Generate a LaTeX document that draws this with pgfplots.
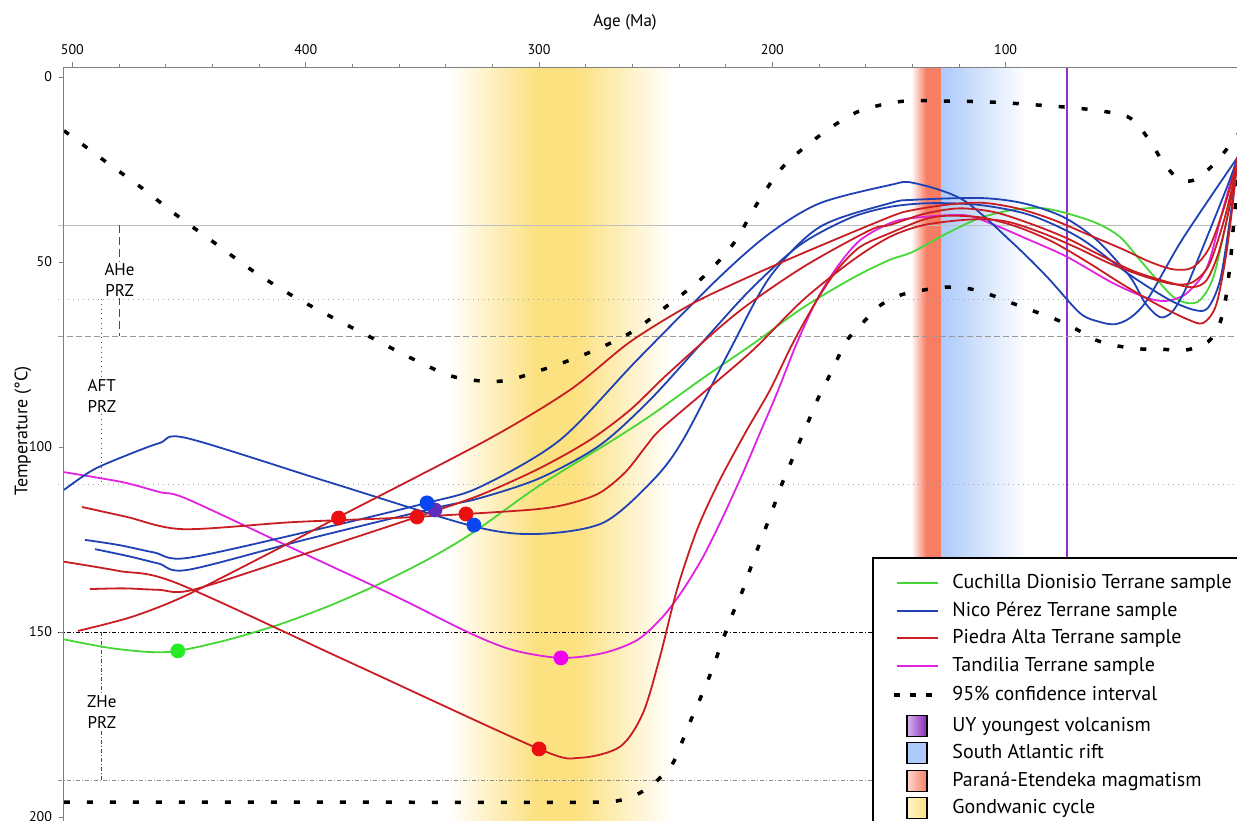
\documentclass[border=0pt]{standalone}
\usepackage{fontspec}
\setmainfont{PT Sans}
\usepackage{pgfplots}
\pgfplotsset{compat=1.18}
\definecolor{cgreen}{RGB}{70,215,55}
\definecolor{cblue}{RGB}{30,65,180}
\definecolor{cred}{RGB}{200,30,35}
\definecolor{cmag}{RGB}{225,35,225}
\definecolor{dgreen}{RGB}{40,235,40}
\definecolor{dblue}{RGB}{10,70,240}
\definecolor{dred}{RGB}{235,15,15}
\definecolor{dmag}{RGB}{240,0,240}
\definecolor{dviol}{RGB}{95,45,190}
\definecolor{gyellow}{RGB}{252,225,128}
\definecolor{pred}{RGB}{247,125,100}
\definecolor{sblue}{RGB}{172,202,250}
\definecolor{vline}{RGB}{150,45,205}
\begin{document}
\begin{tikzpicture}
\useasboundingbox (0,0) rectangle (618.5pt,-410pt);
\begin{axis}[
  at={(32pt,-33.5pt)}, anchor=north west,
  scale only axis, width=587.5pt, height=384.25pt,
  xmin=0, xmax=503.6, ymin=-2.7, ymax=205,
  x dir=reverse, y dir=reverse,
  axis x line*=top, axis y line*=left,
  axis on top,
  xtick={100,200,300,400,500}, minor x tick num=4,
  ytick={0,50,100,150,200},
  tick align=outside,
  major tick length=2.5pt, minor tick length=1.5pt,
  tick style={gray, line width=0.4pt},
  axis line style={gray, line width=0.5pt},
  tick label style={font=\fontsize{7}{8}\selectfont},
  /pgf/number format/assume math mode=true,
  clip=false,
]
% bands
\shade[left color=white, right color=gyellow] (axis cs:339,-2.3) rectangle (axis cs:301,205);
\fill[gyellow] (axis cs:301,-2.3) rectangle (axis cs:284,205);
\shade[left color=gyellow, right color=white] (axis cs:284,-2.3) rectangle (axis cs:243,205);
\shade[left color=white, right color=pred] (axis cs:140.5,-2.3) rectangle (axis cs:134,205);
\fill[pred] (axis cs:134,-2.3) rectangle (axis cs:127.6,205);
\shade[left color=sblue, right color=white] (axis cs:127.6,-2.3) rectangle (axis cs:91,205);
\draw[vline, line width=1.3pt] (axis cs:73.7,-2.3) -- (axis cs:73.7,205);
% PRZ grid lines
\draw[black!25, line width=0.4pt] (axis cs:506,40) -- (axis cs:0,40);
\draw[black!35, line width=0.5pt, dotted] (axis cs:506,60) -- (axis cs:0,60);
\draw[black!40, line width=0.4pt, dash pattern=on 3pt off 1.5pt] (axis cs:506,70) -- (axis cs:0,70);
\draw[black!35, line width=0.5pt, dotted] (axis cs:506,110) -- (axis cs:0,110);
\draw[black, line width=0.4pt, dash pattern=on 2pt off 1pt on 0.5pt off 1pt] (axis cs:506,150) -- (axis cs:150,150);
\draw[black!45, line width=0.4pt, dash pattern=on 2pt off 1pt on 0.5pt off 1pt] (axis cs:506,190) -- (axis cs:150,190);
% vertical PRZ markers
\draw[black!70, line width=0.4pt, dash pattern=on 4pt off 2pt] (axis cs:479.8,40) -- (axis cs:479.8,70);
\draw[black!70, line width=0.4pt, dotted] (axis cs:487.4,60) -- (axis cs:487.4,110);
\draw[black!70, line width=0.4pt, dash pattern=on 2pt off 1pt on 0.5pt off 1pt] (axis cs:487.4,150) -- (axis cs:487.4,190);
\node[fill=white, inner sep=1pt, align=center, font=\fontsize{8.5}{10.2}\selectfont] at (axis cs:479.8,54.9) {AHe\\PRZ};
\node[fill=white, inner sep=1pt, align=center, font=\fontsize{8.5}{10.2}\selectfont] at (axis cs:487.4,86.2) {AFT\\PRZ};
\node[fill=white, inner sep=1pt, align=center, font=\fontsize{8.5}{10.2}\selectfont] at (axis cs:487.4,171.6) {ZHe\\PRZ};
% 95% confidence interval
\addplot[black, line width=1.75pt, dash pattern=on 3pt off 8.5pt, smooth] coordinates {
(503.6,14.5)(486.1,22.7)(470.2,30.0)(454.8,37.6)(438.9,44.9)(423.1,52.2)(406.3,58.9)(388.8,64.9)(371.6,70.5)(354.1,76.2)(336.0,81.1)(316.3,82.2)(297.5,78.9)(279.0,74.6)(261.0,69.2)(245.2,61.9)(229.7,54.1)(216.5,44.9)(206.6,34.3)(195.5,24.3)(180.5,16.2)(163.8,9.5)(144.9,6.6)(125.2,6.5)(105.4,6.8)(85.7,7.6)(66.4,8.6)(50,10.2)(44,12.5)(38,17.5)(32,23.5)(26,27.5)(20,28)(13.3,25.1)(6.9,20.8)(0.5,15.5)};
\addplot[black, line width=1.75pt, dash pattern=on 3pt off 8.5pt, smooth] coordinates {
(503.6,196)(380,196)(280,196)(266.2,195.6)(256.8,193.5)(248.6,189.7)(242.6,185.4)(238.7,179.7)(234.9,173.8)(231.0,168.1)(227.2,162.4)(223.7,156.5)(220.3,150.5)(216.9,144.9)(213.0,139.2)(209.6,133.2)(206.2,127.3)(202.7,121.6)(199.3,115.9)(195.9,110)(192.0,104.1)(188.2,98.4)(184.3,92.7)(180.5,87.0)(176.2,81.6)(171.9,75.9)(167.6,70.8)(160.3,65.8)(153.5,61.6)(144.9,58.9)(135.4,57.6)(125.6,56.8)(115.7,57.2)(106.3,58.9)(97.3,61.1)(88.3,63.2)(78.9,65.4)(69.9,68.1)(61.3,71.1)(51.9,72.7)(42.0,73.5)(32.6,73.6)(22.7,73.8)(13.3,71.6)(8.5,67)(6,61)(4.5,54.3)(3.4,48.1)(2.6,41.9)(1.7,35.9)(0.9,29.2)(0.2,22)};
% Cuchilla Dionisio (green)
\addplot[cgreen, line width=0.9pt, smooth] coordinates {
(503.6,152)(484,154.3)(467,155.4)(454.8,155.1)(434,152.2)(412,148.1)(391,143.2)(369.5,137.3)(348,130.5)(328,123)(300,110.5)(268,98)(251,91)(230,81.5)(208,72)(187,62.4)(165.5,54.3)(150,49.5)(140,47.3)(125,42.2)(111,38.1)(97,35.9)(85,35.4)(74,36.8)(61,39.5)(51,43.2)(42.4,49.5)(35,54.9)(28,59.5)(22,61.1)(16.7,60.3)(11,54.1)(5,37.8)(0.5,21.6)};
% Tandilia (magenta)
\addplot[cmag, line width=0.9pt, smooth] coordinates {
(503.6,106.8)(491,108.1)(477,109.7)(462.5,112.2)(451,114)(405.5,127.4)(362.6,140)(329.6,150.3)(311,154.9)(290.6,157)(272.6,155.7)(258,152.2)(247,145.9)(238.3,138.6)(229.7,129.7)(221.2,118.9)(212.6,107)(205.3,96.2)(198,85.4)(189.5,71.9)(181,60.3)(172.3,51.4)(162.4,44.1)(149.6,39.5)(139.7,38.1)(118.3,37.3)(106.7,39.5)(89.6,44.1)(73.7,48.6)(54,55.7)(39.4,59.7)(30.9,60.5)(22.3,58.4)(13.7,51.4)(6.9,35.9)(0.5,21.6)};
% Nico Perez (blue) B1
\addplot[cblue, line width=0.9pt, smooth] coordinates {
(503.6,111.6)(491.2,106.2)(476.6,102.2)(462.5,98.9)(450.9,97.6)(390,109.5)(328.3,121.4)(300.9,123.5)(272.6,120.5)(251.2,109)(238.3,98.1)(218.2,73.8)(201,54)(179.6,40.5)(149.6,34.1)(139.7,33.2)(111,32.7)(92.6,34.1)(75.4,37.8)(60.9,44.1)(46.7,54)(40.3,61)(33.9,64.9)(28.7,63.5)(23.1,57.6)(15.4,45.9)(5.1,29.7)(0.5,21.6)};
% B2
\addplot[cblue, line width=0.9pt, smooth] coordinates {
(494.6,125.1)(480,126.5)(465,128.5)(450.9,130)(400,123)(348,115.1)(325.3,110.8)(291,98.1)(258,76.5)(222.5,54)(201,42.2)(179.6,34.1)(149.6,29.2)(139.7,28.6)(118.3,33.2)(96.9,44.9)(82.3,54)(68.2,63.8)(59.6,66.2)(53.1,66.8)(46.7,65.1)(39.4,60.3)(25.3,44.9)(11.1,31.4)(0.5,21.6)};
% B3
\addplot[cblue, line width=0.9pt, smooth] coordinates {
(490.3,127.6)(476,129.5)(463,131.5)(450.5,133.2)(400,125)(344.6,116.5)(325.3,113.8)(299.6,108.4)(273.9,99.5)(252.5,87.3)(231,72.4)(209.6,57.6)(188.2,45.4)(166.7,38.1)(149.6,35.1)(132.4,34.1)(111,34.6)(89.6,37.3)(68.2,43.5)(46.7,53.5)(29.6,60.3)(18.9,63)(13.3,62.4)(8.1,54.9)(3.9,38.6)(0.5,21.6)};
% Piedra Alta (red) R1
\addplot[cred, line width=0.9pt, smooth] coordinates {
(495.9,116.2)(476.6,118.9)(452.6,122.2)(405.5,120.3)(362.6,119.2)(331.3,118.1)(300.9,116.8)(287,115.3)(274,112.4)(263,106.8)(253.8,99.5)(248.2,95.4)(229.7,85.4)(208.3,73.8)(186.9,60.3)(165.5,49.5)(149.6,43.2)(135,40)(115,38.5)(100,39)(85,42)(70,46)(55,50.5)(40,54)(28,56)(20,55.5)(13,51)(7,40)(3,30)(0.5,21.6)};
% R2
\addplot[cred, line width=0.9pt, smooth] coordinates {
(503.6,131)(480,133.5)(455.2,136.8)(380,158.5)(300,181.6)(282.5,184)(265.3,181)(255.5,172)(248.2,156.8)(240.9,138.6)(232.3,122.4)(222.5,108.9)(210.9,95.4)(201,84.6)(191.2,71.9)(180.9,60.3)(172.3,52.2)(162.4,45.9)(149.6,42.2)(135,38.5)(125,37.5)(110,38)(95,40.5)(80,44.5)(65,50)(50,56)(35,61.5)(22,65.5)(15.4,66.5)(10,62)(6,50)(3,36)(0.5,21.6)};
% R3
\addplot[cred, line width=0.9pt, smooth] coordinates {
(492.5,138.4)(478,138.2)(463,138.6)(448.4,138.6)(400,128.8)(352.3,118.9)(325.3,113)(299.6,105.7)(278.2,98.1)(261,90)(243.9,79.7)(215.2,63.8)(186.9,51.4)(158.2,41.4)(149.6,40)(135,37)(120,35.5)(105,36.5)(90,39.5)(74,43.5)(60,48)(45,52.5)(30,55.5)(20,56.8)(14,55)(9,48)(5,38)(2,28)(0.5,21.6)};
% R4
\addplot[cred, line width=0.9pt, smooth] coordinates {
(497.6,149.7)(475,146)(452.6,140.5)(418,129.5)(384.9,118.6)(322.3,98.1)(286.8,84.6)(261,71.6)(235.3,61.6)(213.9,55.1)(186.9,47.6)(149.6,37.8)(140,36)(125,34.5)(110,34)(95,35.5)(80,38.5)(65,42.5)(50,46.5)(38,50)(28,52)(20,51.5)(13,46.5)(7,36.5)(3,28)(0.5,21.6)};
% dots
\addplot[only marks, mark=*, mark size=3.5pt, color=dgreen] coordinates {(454.8,155.1)};
\addplot[only marks, mark=*, mark size=3.5pt, color=dmag] coordinates {(290.6,157.0)};
\addplot[only marks, mark=*, mark size=3.5pt, color=dred] coordinates {(385.9,119.2)(352.3,118.9)(331.3,118.1)(300.0,181.6)};
\addplot[only marks, mark=*, mark size=3.5pt, color=dviol] coordinates {(344.6,117.0)};
\addplot[only marks, mark=*, mark size=3.5pt, color=dblue] coordinates {(348.0,115.1)(327.9,121.1)};
\end{axis}
% axis titles
\node[font=\fontsize{8.5}{10}\selectfont] at (312.5pt,-11pt) {Age (Ma)};
\node[font=\fontsize{9}{10}\selectfont, rotate=90] at (11.5pt,-215.5pt) {Temperature (°C)};
% legend
\draw[black, line width=0.9pt, fill=white] (436.5pt,-279pt) rectangle (625pt,-415pt);
\begin{scope}[every node/.style={anchor=west, inner sep=0pt, font=\fontsize{10}{11}\selectfont, text height=7pt, text depth=2pt}]
\draw[cgreen, line width=0.9pt] (448.5pt,-291.5pt) -- (469pt,-291.5pt);
\node at (476pt,-291.5pt) {Cuchilla Dionisio Terrane sample};
\draw[cblue, line width=0.9pt] (448.5pt,-305.5pt) -- (469pt,-305.5pt);
\node at (476pt,-305.5pt) {Nico Pérez Terrane sample};
\draw[cred, line width=0.9pt] (448.5pt,-319pt) -- (469pt,-319pt);
\node at (476pt,-319pt) {Piedra Alta Terrane sample};
\draw[cmag, line width=0.9pt] (448.5pt,-333pt) -- (469pt,-333pt);
\node at (476pt,-333pt) {Tandilia Terrane sample};
\draw[black, line width=1.75pt, dash pattern=on 3pt off 5pt] (447pt,-347.5pt) -- (470pt,-347.5pt);
\node at (476pt,-347.5pt) {95\% confidence interval};
\shade[left color=vline!35, right color=vline!90!black] (453.5pt,-357.8pt) rectangle (463.5pt,-368.2pt);
\draw[black, line width=0.6pt] (453.5pt,-357.8pt) rectangle (463.5pt,-368.2pt);
\node at (476pt,-363pt) {UY youngest volcanism};
\fill[sblue] (453.5pt,-371.3pt) rectangle (463.5pt,-381.7pt);
\draw[black, line width=0.6pt] (453.5pt,-371.3pt) rectangle (463.5pt,-381.7pt);
\node at (476pt,-376.5pt) {South Atlantic rift};
\shade[left color=pred!30, right color=pred] (453.5pt,-385.3pt) rectangle (463.5pt,-395.7pt);
\draw[black, line width=0.6pt] (453.5pt,-385.3pt) rectangle (463.5pt,-395.7pt);
\node at (476pt,-390.5pt) {Paraná-Etendeka magmatism};
\shade[left color=gyellow!40, right color=gyellow] (453.5pt,-398.8pt) rectangle (463.5pt,-409.2pt);
\draw[black, line width=0.6pt] (453.5pt,-398.8pt) rectangle (463.5pt,-409.2pt);
\node at (476pt,-404pt) {Gondwanic cycle};
\end{scope}
\end{tikzpicture}
\end{document}
